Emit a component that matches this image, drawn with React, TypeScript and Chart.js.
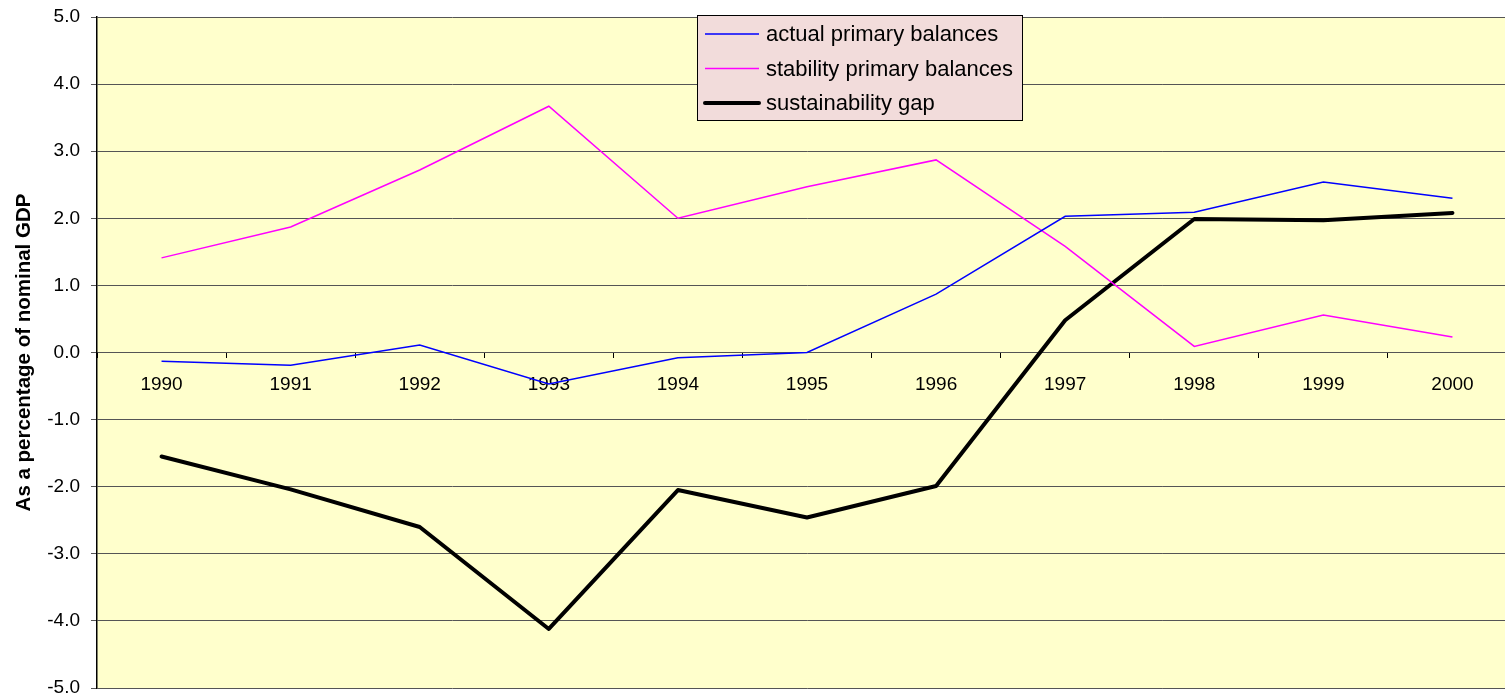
import React, { useEffect, useRef } from "react";
import { Chart, registerables } from "chart.js";

Chart.register(...registerables);

const years = ["1990", "1991", "1992", "1993", "1994", "1995", "1996", "1997", "1998", "1999", "2000"];
const actualPrimary = [-0.13, -0.19, 0.11, -0.47, -0.08, 0.0, 0.87, 2.03, 2.09, 2.54, 2.3];
const stabilityPrimary = [1.41, 1.87, 2.72, 3.67, 2.0, 2.47, 2.87, 1.58, 0.09, 0.56, 0.23];
const sustainabilityGap = [-1.55, -2.04, -2.6, -4.12, -2.05, -2.46, -1.99, 0.48, 1.99, 1.97, 2.08];
const seriesNames = ["actual primary balances", "stability primary balances", "sustainability gap"];
const yAxisTitle = "As a percentage of nominal GDP";
const yMin = -5;
const yMax = 5;
const yStep = 1;

const FONT = "'Liberation Sans', Arial, sans-serif";

const plotBgPlugin = {
  id: "plotBg",
  beforeDraw(chart: any) {
    const { ctx, chartArea } = chart;
    ctx.save();
    ctx.fillStyle = "#FFFFCC";
    ctx.fillRect(chartArea.left, chartArea.top, chartArea.right - chartArea.left, chartArea.bottom - chartArea.top);
    ctx.restore();
  },
};

const boxLegendPlugin = {
  id: "boxLegend",
  afterDraw(chart: any) {
    const ctx = chart.ctx;
    const x = 697.5, y = 15.5, w = 325, h = 105;
    ctx.save();
    ctx.fillStyle = "#F2DCDB";
    ctx.fillRect(x, y, w, h);
    ctx.strokeStyle = "#000";
    ctx.lineWidth = 1;
    ctx.strokeRect(x, y, w, h);
    chart.data.datasets.forEach((ds: any, i: number) => {
      const cy = 34 + i * 34.5;
      ctx.beginPath();
      ctx.strokeStyle = ds.borderColor;
      ctx.lineWidth = ds.borderWidth;
      ctx.lineCap = ds.borderWidth > 2 ? "round" : "butt";
      ctx.moveTo(705, cy);
      ctx.lineTo(759, cy);
      ctx.stroke();
      ctx.fillStyle = "#000";
      ctx.font = `22px ${FONT}`;
      ctx.textAlign = "left";
      ctx.textBaseline = "middle";
      ctx.fillText(ds.label, 766, cy + 1);
    });
    ctx.restore();
  },
};

export default function App() {
  const ref = useRef<HTMLCanvasElement | null>(null);

  useEffect(() => {
    if (!ref.current) return;
    const chart = new Chart(ref.current, {
      type: "line",
      data: {
        labels: years,
        datasets: [
          {
            label: seriesNames[0],
            data: actualPrimary,
            borderColor: "#0000FF",
            borderWidth: 1.5,
            pointRadius: 0,
            tension: 0,
          },
          {
            label: seriesNames[1],
            data: stabilityPrimary,
            borderColor: "#FF00FF",
            borderWidth: 1.5,
            pointRadius: 0,
            tension: 0,
          },
          {
            label: seriesNames[2],
            data: sustainabilityGap,
            borderColor: "#000000",
            borderWidth: 4,
            borderCapStyle: "round",
            borderJoinStyle: "round",
            pointRadius: 0,
            tension: 0,
          },
        ],
      },
      options: {
        responsive: false,
        animation: false,
        layout: { padding: { top: 17, bottom: 11, left: 0, right: 8 } },
        plugins: {
          legend: { display: false },
          tooltip: { enabled: false },
        },
        scales: {
          x: {
            type: "category",
            position: { y: 0 } as any,
            offset: true,
            afterFit(scale: any) {
              scale.height = 0;
              scale.paddingLeft = 0;
              scale.paddingRight = 0;
              scale.paddingTop = 0;
              scale.paddingBottom = 0;
            },
            grid: {
              offset: true,
              drawOnChartArea: false,
              drawTicks: true,
              tickLength: 5,
              color: "#000",
            },
            border: { display: true, color: "#555", width: 1 },
            ticks: {
              color: "#000",
              font: { family: FONT, size: 19 },
              padding: 16,
              maxRotation: 0,
              autoSkip: false,
            },
          },
          y: {
            type: "linear",
            min: yMin,
            max: yMax,
            afterFit(scale: any) {
              scale.width = 97;
              scale.paddingTop = 0;
              scale.paddingBottom = 0;
              scale.paddingLeft = 0;
              scale.paddingRight = 0;
            },
            ticks: {
              stepSize: yStep,
              color: "#000",
              font: { family: FONT, size: 19 },
              padding: 11,
              callback: (v: any) => Number(v).toFixed(1),
            },
            grid: {
              color: "#555",
              lineWidth: 1,
              drawTicks: true,
              tickLength: 6,
            },
            border: { display: true, color: "#000", width: 1.5 },
            title: {
              display: true,
              text: yAxisTitle,
              color: "#000",
              font: { family: FONT, size: 20.5, weight: "bold" },
              padding: { top: 12, bottom: 0 },
            },
          },
        },
      },
      plugins: [plotBgPlugin, boxLegendPlugin],
    });
    return () => chart.destroy();
  }, []);

  return (
    <div style={{ position: "fixed", left: 0, top: 0, width: 1505, height: 699, overflow: "hidden", background: "#fff" }}>
      <canvas ref={ref} width={1525} height={699} style={{ width: 1525, height: 699, display: "block" }} />
    </div>
  );
}
